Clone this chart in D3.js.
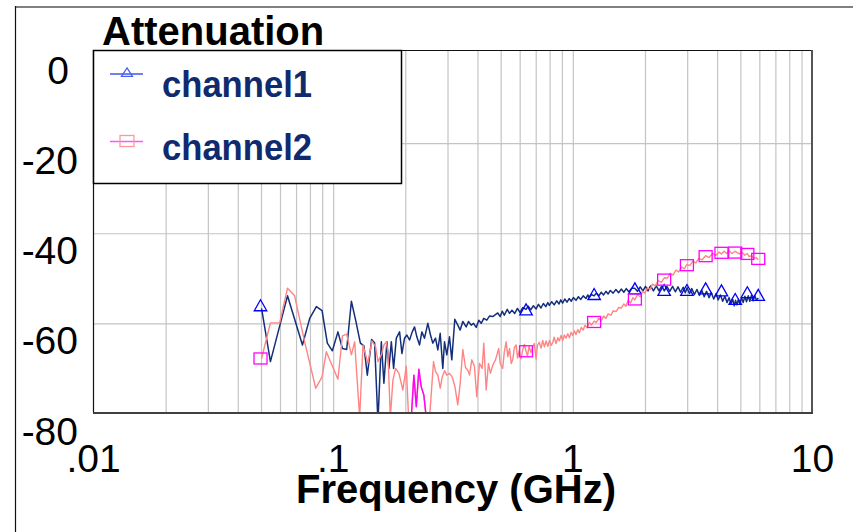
<!DOCTYPE html>
<html><head><meta charset="utf-8">
<script src="https://cdn.jsdelivr.net/npm/d3@7"></script>
<style>html,body{margin:0;padding:0;background:#fff;} svg{display:block;font-family:"Liberation Sans",Arial,Helvetica,sans-serif;}</style>
</head><body><svg id="c" width="853" height="532"></svg>
<script>
// ---------- data ----------
const title = "Attenuation";
const xTitle = "Frequency (GHz)";
const seriesNames = ["channel1", "channel2"];
const xTickValues = [0.01, 0.1, 1, 10];
const xTickLabels = [".01", ".1", "1", "10"];
const yTickValues = [0, -20, -40, -60, -80];
const yGridValues = [-20, -40, -60];

const ch1Freq = [0.0505,0.0550,0.0648,0.0748,0.0802,0.0855,0.0903,0.0950,0.0997,0.1052,0.1098,0.1144,0.1197,0.1247,0.1305,0.1350,0.1395,0.1454,0.1496,0.1545,0.1596,0.1636,0.1684,0.1717,0.1757,0.1796,0.1843,0.1902,0.1945,0.1995,0.2040,0.2093,0.2148,0.2196,0.2245,0.2304,0.2356,0.2417,0.2495,0.2560,0.2617,0.2686,0.2747,0.2810,0.2881,0.2929,0.2994,0.3072,0.3141,0.3233,0.3327,0.3405,0.3491,0.3607,0.3687,0.3784,0.3869,0.3971,0.4071,0.4166,0.4271,0.4396,0.4511,0.4656,0.4885,
0.50,0.51,0.52,0.535,0.547,0.56,0.575,0.59,0.605,0.621,0.641,0.655,0.67,0.688,0.706,0.722,0.74,0.757,0.775,0.79,0.802,0.82,0.84,0.86,0.88,0.895,0.911,0.93,0.95,0.97,0.99,1.01,1.036,1.06,1.085,1.11,1.14,1.16,1.177,1.2,1.233,1.26,1.29,1.32,1.35,1.381,1.41,1.44,1.48,1.52,1.56,1.6,1.64,1.68,1.72,1.77,1.82,1.87,1.92,1.97,2.02,2.07,2.12,2.18,2.24,2.3,2.36,2.42,2.48,2.55,2.62,2.69,2.76,2.83,2.9,2.96,3.01,3.08,3.15,3.23,3.31,3.39,3.47,3.55,3.63,3.72,3.8,3.89,3.98,4.06,4.15,4.24,4.33,4.42,4.51,4.59,4.67,4.74,4.8,4.86,4.93,5.0,5.08,5.16,5.25,5.33,5.42,5.5,5.59,5.68,5.77,5.86,5.97];
const ch1Val = [-56.8,-68.6,-54.0,-64.9,-59.0,-56.4,-57.3,-64.5,-66.2,-62.0,-65.7,-65.9,-55.2,-59.4,-64.5,-65.1,-71.6,-63.7,-64.4,-82,-64.2,-73.4,-64.2,-70.1,-64.2,-70.1,-63.4,-62.0,-66.8,-63.4,-62.7,-63.8,-62.0,-60.9,-63.1,-64.9,-62.0,-63.4,-60.1,-62.7,-64.5,-63.4,-66.0,-62.3,-70.1,-64.2,-67.1,-63.1,-68.2,-59.2,-60.5,-61.6,-59.7,-60.9,-59.7,-60.5,-60.1,-61.0,-59.4,-60.1,-59.0,-59.4,-58.5,-58.6,-57.8,
-58.6,-57.4,-58.3,-57.0,-57.9,-57.2,-57.9,-56.8,-57.7,-56.6,-57.0,-56.3,-57.1,-56.2,-56.9,-55.9,-56.7,-55.7,-56.4,-55.5,-56.1,-55.3,-56.0,-55.1,-55.8,-54.9,-55.6,-54.7,-55.4,-54.6,-55.2,-54.4,-55.0,-54.2,-54.8,-54.0,-54.6,-53.8,-54.4,-53.7,-54.0,-53.4,-54.0,-53.2,-53.8,-53.0,-53.6,-52.8,-53.4,-52.6,-53.3,-52.5,-53.2,-52.4,-53.1,-52.3,-52.3,-53.0,-52.0,-52.9,-51.9,-52.9,-51.8,-52.9,-51.8,-52.9,-51.8,-52.9,-51.9,-53.0,-51.9,-53.1,-52.0,-53.2,-52.1,-53.3,-52.2,-53.5,-52.4,-53.7,-52.6,-53.9,-52.8,-54.2,-53.0,-54.4,-53.3,-54.7,-53.5,-54.9,-53.8,-55.2,-54.1,-55.5,-54.4,-55.8,-54.8,-56.2,-55.0,-56.0,-54.8,-55.8,-54.4,-55.5,-54.1,-55.3,-54.0,-55.2,-53.9,-55.1,-53.9,-55.0,-54.5];

const ch2Freq = [0.0505,0.0550,0.0601,0.0648,0.0694,0.0764,0.0850,0.0903,0.0941,0.1052,0.1098,0.1144,0.1197,0.1235,0.1296,0.1338,0.1403,0.1458,0.1511,0.1545,0.1596,0.1636,0.1674,0.1700,0.1740,0.1784,0.1831,0.1890,0.1963,0.2028,0.2074,0.2128,0.2182,0.2233,0.2289,0.2342,0.2401,0.2457,0.2537,0.2635,0.2686,0.2747,0.2810,0.2865,0.2929,0.2994,0.3072,0.3153,0.3233,0.3327,0.3405,0.3491,0.3583,0.3663,0.3723,0.3806,0.3906,0.3993,0.4098,0.4205,0.4271,0.4371,0.4467,0.4553,0.4656,0.4778,0.4931,
0.50,0.5124,0.52,0.5294,0.538,0.547,0.556,0.564,0.573,0.5826,0.591,0.60,0.61,0.621,0.631,0.641,0.65,0.66,0.672,0.6833,0.694,0.706,0.715,0.728,0.7407,0.752,0.765,0.777,0.79,0.803,0.815,0.828,0.84,0.855,0.87,0.883,0.897,0.912,0.927,0.9415,0.957,0.972,0.988,1.003,1.02,1.036,1.053,1.069,1.09,1.11,1.13,1.153,1.177,1.20,1.233,1.26,1.29,1.32,1.35,1.381,1.41,1.45,1.48,1.521,1.56,1.60,1.64,1.674,1.71,1.75,1.79,1.82,1.87,1.92,1.963,2.01,2.06,2.11,2.161,2.22,2.28,2.35,2.42,2.49,2.56,2.63,2.704,2.78,2.86,2.93,3.01,3.09,3.18,3.276,3.37,3.48,3.6,3.72,3.85,3.97,4.098,4.19,4.3,4.41,4.511,4.64,4.78,4.964,5.1,5.24,5.37,5.465,5.6,5.72,5.85,5.97];
const ch2Val = [-67.9,-60.0,-60.0,-52.3,-54.0,-64.2,-74.5,-72.0,-66.4,-72.5,-62.9,-62.5,-67.1,-64.2,-81,-64.9,-69.0,-64.0,-65.3,-68.6,-67.1,-64.9,-64.2,-66.4,-81,-72.7,-70.1,-71.2,-74.9,-69.6,-81,-81,-71.6,-78.6,-70.3,-74.2,-76.0,-81,-81,-68.6,-70.8,-71.6,-74.5,-72.0,-70.6,-71.6,-71.2,-72.0,-74.0,-78.2,-73.4,-65.9,-69.9,-70.5,-71.6,-68.2,-69.7,-76.4,-69.0,-70.1,-64.5,-74.9,-69.0,-71.2,-69.4,-68.2,-65.7,
-69.0,-70.1,-66.5,-64.2,-67.5,-65.7,-69.0,-68.2,-65.5,-64.9,-67.8,-66.2,-68.0,-66.0,-64.8,-66.3,-67.3,-65.2,-66.6,-65.3,-64.6,-68.0,-65.0,-64.3,-65.6,-63.9,-65.3,-64.0,-65.2,-63.9,-65.0,-64.4,-63.2,-64.6,-63.3,-64.0,-62.8,-63.9,-62.7,-63.4,-62.4,-63.3,-62.1,-62.8,-61.8,-62.6,-61.5,-62.2,-61.0,-61.6,-60.5,-61.1,-59.9,-60.5,-59.6,-59.9,-59.0,-59.5,-58.5,-59.0,-58.0,-58.3,-57.3,-57.5,-56.6,-56.7,-55.8,-56.3,-55.0,-55.6,-54.4,-54.9,-53.8,-54.2,-53.0,-53.4,-52.2,-52.6,-51.4,-51.8,-50.6,-51.0,-50.0,-50.1,-49.0,-49.4,-48.3,-48.7,-47.6,-48.0,-47.0,-47.3,-46.3,-46.7,-45.7,-46.0,-45.1,-45.5,-44.6,-45.0,-44.3,-44.7,-44.1,-44.6,-44.0,-44.6,-44.1,-44.7,-44.3,-45.0,-44.6,-45.3,-45.1,-45.7,-45.5,-46.0];

// frequencies at which the original plot draws its markers
const markerFreq = [0.05,0.641,1.233,1.824,2.416,3.007,3.599,4.19,4.782,5.373,5.965];
const ch1Marker = [-56.5,-57.4,-54.0,-52.75,-53.1,-53.1,-52.75,-53.2,-55.1,-53.6,-54.2];
const ch2Marker = [-67.9,-66.3,-59.8,-54.8,-50.4,-47.2,-45.2,-44.45,-44.4,-44.7,-45.8];
// part of channel2 that the original draws in magenta
const ch2HighlightRange = [0.2074, 0.2457];

// ---------- chart ----------
const svg = d3.select("#c");
const P = {left: 93, right: 812, top: 50, bottom: 413};
const x = d3.scaleLog().domain([0.01, 10]).range([P.left, P.right]);
const y = d3.scaleLinear().domain([-80, 0]).range([P.bottom, 52.5]);

svg.append("rect").attr("width", 853).attr("height", 532).attr("fill", "#fff");

// outer frame
svg.append("line").attr("x1", 15).attr("x2", 853).attr("y1", 7).attr("y2", 7)
  .attr("stroke", "#808080").attr("stroke-width", 2);
svg.append("line").attr("x1", 15.5).attr("x2", 15.5).attr("y1", 6).attr("y2", 532)
  .attr("stroke", "#111").attr("stroke-width", 1.2);

// grid (vertical) through axis
const gx = svg.append("g").attr("transform", `translate(0.5,${P.bottom})`)
  .call(d3.axisBottom(x).tickValues(x.ticks().filter(t => t > 0.0101 && t < 9.99))
    .tickSize(-(P.bottom - P.top)).tickFormat(""));
gx.select(".domain").remove();
gx.selectAll("line").attr("stroke", "#c4c4c4").attr("stroke-width", 1.2);

// grid (horizontal)
const gy = svg.append("g").attr("transform", `translate(${P.left},0.5)`)
  .call(d3.axisLeft(y).tickValues(yGridValues).tickSize(-(P.right - P.left)).tickFormat(""));
gy.select(".domain").remove();
gy.selectAll("line").attr("stroke", "#c4c4c4").attr("stroke-width", 1.2);

// clip
svg.append("clipPath").attr("id", "clip").append("rect")
  .attr("x", P.left).attr("y", P.top).attr("width", P.right - P.left).attr("height", P.bottom - P.top);

const line = d3.line().x(d => x(d[0])).y(d => y(d[1]));
const ch1 = ch1Freq.map((f, i) => [f, ch1Val[i]]);
const ch2 = ch2Freq.map((f, i) => [f, ch2Val[i]]);
const ch2hl = ch2.filter(d => d[0] >= ch2HighlightRange[0] && d[0] <= ch2HighlightRange[1]);

const gData = svg.append("g").attr("clip-path", "url(#clip)");
gData.append("path").datum(ch1).attr("d", line).attr("fill", "none")
  .attr("stroke", "#132e7a").attr("stroke-width", 1.5).attr("stroke-linejoin", "round");
gData.append("path").datum(ch2).attr("d", line).attr("fill", "none")
  .attr("stroke", "#ff8585").attr("stroke-width", 1.4).attr("stroke-linejoin", "round");
gData.append("path").datum(ch2hl).attr("d", line).attr("fill", "none")
  .attr("stroke", "#ff00ff").attr("stroke-width", 1.4).attr("stroke-linejoin", "round");

// markers
const tri = (cx, cy, w, h) => `M${cx},${cy - h * 2 / 3}L${cx + w / 2},${cy + h / 3}L${cx - w / 2},${cy + h / 3}Z`;
svg.append("g").selectAll("path").data(markerFreq.map((f, i) => [f, ch1Marker[i]])).join("path")
  .attr("d", d => tri(x(d[0]), y(d[1]), 12.5, 11))
  .attr("fill", "none").attr("stroke", "#0000ff").attr("stroke-width", 1.3);
svg.append("g").selectAll("rect").data(markerFreq.map((f, i) => [f, ch2Marker[i]])).join("rect")
  .attr("x", d => x(d[0]) - 6.5).attr("y", d => y(d[1]) - 5.5).attr("width", 13).attr("height", 11)
  .attr("fill", "none").attr("stroke", "#ff00ff").attr("stroke-width", 1.3);

// plot borders
svg.append("line").attr("x1", P.left).attr("x2", P.right + 1).attr("y1", P.top + 0.5).attr("y2", P.top + 0.5)
  .attr("stroke", "#111").attr("stroke-width", 1);
svg.append("line").attr("x1", P.left + 0.5).attr("x2", P.left + 0.5).attr("y1", P.top).attr("y2", P.bottom)
  .attr("stroke", "#111").attr("stroke-width", 1.2);
svg.append("line").attr("x1", P.right).attr("x2", P.right).attr("y1", P.top).attr("y2", P.bottom + 1)
  .attr("stroke", "#555").attr("stroke-width", 2);
svg.append("line").attr("x1", P.left).attr("x2", P.right + 1).attr("y1", P.bottom).attr("y2", P.bottom)
  .attr("stroke", "#404040").attr("stroke-width", 2);

// axes labels
const ax = svg.append("g").attr("transform", `translate(0,0)`)
  .call(d3.axisBottom(x).tickValues(xTickValues).tickSize(0).tickFormat((d, i) => xTickLabels[i]));
ax.select(".domain").remove();
ax.selectAll("text").attr("y", 472).attr("dy", null)
  .attr("font-size", 39).attr("font-family", "Liberation Sans, Arial, sans-serif").attr("fill", "#000");

const ay = svg.append("g").attr("transform", `translate(78,0)`)
  .call(d3.axisLeft(y).tickValues(yTickValues).tickSize(0).tickPadding(0).tickFormat(d3.format("d")));
ay.select(".domain").remove();
ay.selectAll("text").attr("y", 31).attr("dy", null).attr("x", d => d === 0 ? -9 : 0)
  .attr("font-size", 39).attr("font-family", "Liberation Sans, Arial, sans-serif").attr("fill", "#000")
  .text(d => d === 0 ? "0" : String(d));

// legend
const lg = svg.append("g");
lg.append("rect").attr("x", 93.5).attr("y", 50.5).attr("width", 308).attr("height", 133)
  .attr("fill", "#fff").attr("stroke", "#000").attr("stroke-width", 1.5);
lg.append("line").attr("x1", 110).attr("x2", 143).attr("y1", 74).attr("y2", 74).attr("stroke", "#4455ee").attr("stroke-width", 1.3);
lg.append("path").attr("d", tri(127, 73.5, 11, 8.5)).attr("fill", "none").attr("stroke", "#4466ee").attr("stroke-width", 1.3);
lg.append("line").attr("x1", 110).attr("x2", 143).attr("y1", 141.5).attr("y2", 141.5).attr("stroke", "#ff55ff").attr("stroke-width", 1.3);
lg.append("rect").attr("x", 120).attr("y", 135.5).attr("width", 14).attr("height", 11).attr("fill", "none").attr("stroke", "#ff9999").attr("stroke-width", 1.3);
lg.selectAll("text.leg").data(seriesNames).join("text").attr("class", "leg")
  .attr("x", 162).attr("y", (d, i) => i === 0 ? 97 : 160)
  .attr("font-size", 37).attr("font-weight", "bold").attr("fill", "#0f2a6e")
  .attr("textLength", 150).attr("lengthAdjust", "spacingAndGlyphs").text(d => d);

// title & x title
svg.append("text").attr("x", 102).attr("y", 45).attr("font-size", 40).attr("font-weight", "bold")
  .attr("fill", "#000").text(title);
svg.append("text").attr("x", 456).attr("y", 503).attr("text-anchor", "middle").attr("font-size", 40)
  .attr("font-weight", "bold").attr("fill", "#000").text(xTitle);
</script></body></html>
